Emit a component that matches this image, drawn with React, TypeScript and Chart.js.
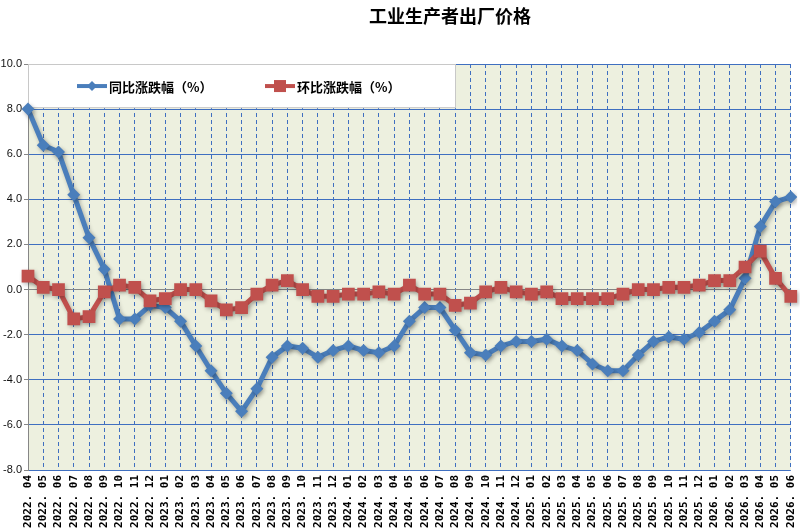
import React, { useEffect, useRef } from "react";
import { Chart, registerables } from "chart.js";

Chart.register(...registerables);

const TITLE = "工业生产者出厂价格";
const SERIES_NAMES = ["同比涨跌幅（%）", "环比涨跌幅（%）"];

const CATEGORIES = [
  "2022. 04", "2022. 05", "2022. 06", "2022. 07", "2022. 08", "2022. 09", "2022. 10", "2022. 11", "2022. 12",
  "2023. 01", "2023. 02", "2023. 03", "2023. 04", "2023. 05", "2023. 06", "2023. 07", "2023. 08", "2023. 09", "2023. 10", "2023. 11", "2023. 12",
  "2024. 01", "2024. 02", "2024. 03", "2024. 04", "2024. 05", "2024. 06", "2024. 07", "2024. 08", "2024. 09", "2024. 10", "2024. 11", "2024. 12",
  "2025. 01", "2025. 02", "2025. 03", "2025. 04", "2025. 05", "2025. 06", "2025. 07", "2025. 08", "2025. 09", "2025. 10", "2025. 11", "2025. 12",
  "2026. 01", "2026. 02", "2026. 03", "2026. 04", "2026. 05", "2026. 06",
];

const YOY = [
  8.0, 6.4, 6.1, 4.2, 2.3, 0.9, -1.3, -1.3, -0.7,
  -0.8, -1.4, -2.5, -3.6, -4.6, -5.4, -4.4, -3.0, -2.5, -2.6, -3.0, -2.7,
  -2.5, -2.7, -2.8, -2.5, -1.4, -0.8, -0.8, -1.8, -2.8, -2.9, -2.5, -2.3,
  -2.3, -2.2, -2.5, -2.7, -3.3, -3.6, -3.6, -2.9, -2.3, -2.1, -2.2, -1.9,
  -1.4, -0.9, 0.5, 2.8, 3.9, 4.1,
];

const MOM = [
  0.6, 0.1, 0.0, -1.3, -1.2, -0.1, 0.2, 0.1, -0.5,
  -0.4, 0.0, 0.0, -0.5, -0.9, -0.8, -0.2, 0.2, 0.4, 0.0, -0.3, -0.3,
  -0.2, -0.2, -0.1, -0.2, 0.2, -0.2, -0.2, -0.7, -0.6, -0.1, 0.1, -0.1,
  -0.2, -0.1, -0.4, -0.4, -0.4, -0.4, -0.2, 0.0, 0.0, 0.1, 0.1, 0.2,
  0.4, 0.4, 1.0, 1.7, 0.5, -0.3,
];

const Y_MIN = -8;
const Y_MAX = 10;
const Y_STEP = 2;

const BLUE = "#4A7EBB";
const RED = "#C0504D";
const GRID_BLUE = "#3F6FC0";
const AXIS_GREY = "#868686";
const PLOT_BG = "#EDF0DF";

const bgPlugin = {
  id: "plotBg",
  beforeDraw(chart: any) {
    const { ctx, chartArea } = chart;
    ctx.save();
    ctx.fillStyle = PLOT_BG;
    ctx.fillRect(chartArea.left, chartArea.top, chartArea.right - chartArea.left, chartArea.bottom - chartArea.top);
    ctx.restore();
  },
};

const titlePlugin = {
  id: "customTitle",
  afterDraw(chart: any) {
    const { ctx } = chart;
    ctx.save();
    ctx.fillStyle = "#000";
    ctx.font = "bold 18px 'Noto Sans CJK SC'";
    ctx.textAlign = "center";
    ctx.textBaseline = "middle";
    ctx.fillText(TITLE, 450, 16);
    ctx.restore();
  },
};

const legendPlugin = {
  id: "customLegend",
  beforeDatasetsDraw(chart: any) {
    const { ctx, chartArea } = chart;
    const yScale = chart.scales.y;
    const top = chartArea.top;
    const bottom = yScale.getPixelForValue(8) - 1;
    const left = chartArea.left;
    const right = 456;
    ctx.save();
    ctx.fillStyle = "#FFFFFF";
    ctx.fillRect(left, top, right - left, bottom - top);
    ctx.strokeStyle = "#C8C8C8";
    ctx.lineWidth = 1;
    ctx.strokeRect(left + 0.5, top + 0.5, right - left - 1, bottom - top - 1);

    const cy = (top + bottom) / 2;
    const items = [
      { x: 77, color: BLUE, style: "diamond", text: SERIES_NAMES[0] },
      { x: 265, color: RED, style: "square", text: SERIES_NAMES[1] },
    ];
    items.forEach((it) => {
      ctx.strokeStyle = it.color;
      ctx.lineWidth = 4;
      ctx.beginPath();
      ctx.moveTo(it.x, cy);
      ctx.lineTo(it.x + 30, cy);
      ctx.stroke();
      ctx.fillStyle = it.color;
      const mx = it.x + 15;
      if (it.style === "diamond") {
        ctx.beginPath();
        ctx.moveTo(mx, cy - 5);
        ctx.lineTo(mx + 5, cy);
        ctx.lineTo(mx, cy + 5);
        ctx.lineTo(mx - 5, cy);
        ctx.closePath();
        ctx.fill();
      } else {
        ctx.fillRect(mx - 6, cy - 6, 12, 12);
      }
      ctx.fillStyle = "#000";
      ctx.font = "bold 13px 'Noto Sans CJK SC'";
      ctx.textAlign = "left";
      ctx.textBaseline = "middle";
      ctx.fillText(it.text, it.x + 32, cy + 1);
    });
    ctx.restore();
  },
};

const shadowPlugin = {
  id: "lineShadow",
  beforeDatasetDraw(chart: any) {
    const { ctx } = chart;
    ctx.save();
    ctx.shadowColor = "rgba(0,0,0,0.28)";
    ctx.shadowBlur = 4;
    ctx.shadowOffsetX = 1.5;
    ctx.shadowOffsetY = 2;
  },
  afterDatasetDraw(chart: any) {
    chart.ctx.restore();
  },
};

export default function App() {
  const canvasRef = useRef<HTMLCanvasElement | null>(null);

  useEffect(() => {
    if (!canvasRef.current) return;
    const chart = new Chart(canvasRef.current, {
      type: "line",
      data: {
        labels: CATEGORIES,
        datasets: [
          {
            label: SERIES_NAMES[0],
            data: YOY,
            borderColor: BLUE,
            backgroundColor: BLUE,
            borderWidth: 5,
            pointStyle: "rectRot",
            pointRadius: 6.5,
            pointBorderWidth: 0,
            pointBackgroundColor: BLUE,
            tension: 0,
            order: 1,
          },
          {
            label: SERIES_NAMES[1],
            data: MOM,
            borderColor: RED,
            backgroundColor: RED,
            borderWidth: 5,
            pointStyle: "rect",
            pointRadius: 9,
            pointBorderWidth: 0,
            pointBackgroundColor: RED,
            tension: 0,
            order: 0,
          },
        ],
      },
      options: {
        animation: false,
        responsive: true,
        maintainAspectRatio: false,
        layout: { padding: { top: 64, right: 9, left: 0, bottom: 0 } },
        plugins: {
          legend: { display: false },
          title: { display: false },
          tooltip: { enabled: false },
        },
        scales: {
          x: {
            type: "category",
            offset: false,
            grid: {
              color: GRID_BLUE,
              lineWidth: 1,
              drawTicks: false,
              offset: false,
            },
            border: { display: false, dash: [4, 3] },
            ticks: {
              autoSkip: false,
              minRotation: 90,
              maxRotation: 90,
              padding: 5,
              color: "#000",
              font: { family: "'DejaVu Sans Mono'", size: 11, weight: "bold" },
            },
            afterFit(scale: any) {
              scale.height = 61;
            },
          },
          y: {
            min: Y_MIN,
            max: Y_MAX,
            grid: {
              color: (c: any) => (c.tick && c.tick.value === 0 ? AXIS_GREY : GRID_BLUE),
              lineWidth: 1,
              drawTicks: true,
              tickLength: 4,
              tickColor: AXIS_GREY,
            },
            border: { display: true, color: AXIS_GREY, width: 1 },
            ticks: {
              stepSize: Y_STEP,
              padding: 2,
              color: "#111",
              font: { family: "'Liberation Sans'", size: 11 },
              callback: (v: any) => Number(v).toFixed(1),
            },
            afterFit(scale: any) {
              scale.width = 28;
            },
          },
        },
      },
      plugins: [bgPlugin, legendPlugin, shadowPlugin, titlePlugin],
    });
    return () => chart.destroy();
  }, []);

  return (
    <div style={{ position: "fixed", left: 0, top: 0, width: 809, height: 531, background: "#fff" }}>
      <canvas ref={canvasRef} />
    </div>
  );
}
